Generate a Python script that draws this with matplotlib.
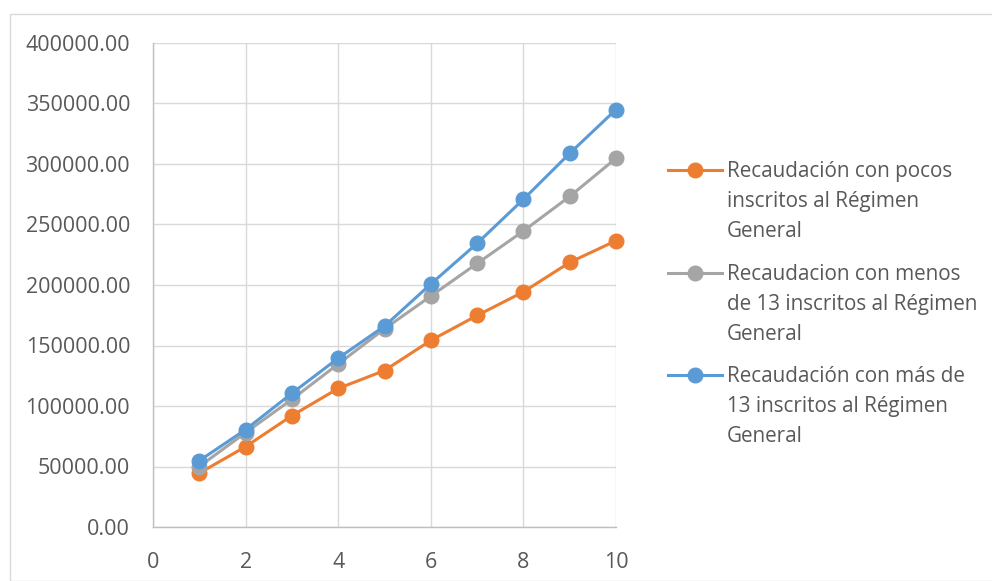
import matplotlib
matplotlib.use("Agg")
import matplotlib.pyplot as plt
from matplotlib.lines import Line2D
from matplotlib.patches import Rectangle
from matplotlib.ticker import FuncFormatter, MultipleLocator

# Data
periodos = [1, 2, 3, 4, 5, 6, 7, 8, 9, 10]
pocos_inscritos = [44500, 66400, 92000, 114500, 129300, 154200, 174800, 194300, 218700, 236600]
menos_13 = [50000, 78000, 105500, 134700, 163800, 190800, 217800, 244600, 273200, 304700]
mas_13 = [54800, 80500, 110500, 139500, 166000, 200800, 234400, 270800, 308800, 345000]

series_labels = [
    ["Recaudación con pocos", "inscritos al Régimen", "General"],
    ["Recaudacion con menos", "de 13 inscritos al Régimen", "General"],
    ["Recaudación con más de", "13 inscritos al Régimen", "General"],
]
series_values = [pocos_inscritos, menos_13, mas_13]
series_colors = ["#ED7D31", "#A5A5A5", "#5B9BD5"]

W, H = 992, 581
DPI = 100
FONT = "Open Sans"
TXT = "#595959"

fig = plt.figure(figsize=(W / DPI, H / DPI), dpi=DPI)
fig.patch.set_facecolor("white")

# chart frame
fig.add_artist(Rectangle((9.5 / W, 0), 2.0, (H - 13.5) / H, transform=fig.transFigure,
                         fill=False, edgecolor="#d9d9d9", linewidth=1.0))

ax = fig.add_axes([153 / W, 1 - 527 / H, (616 - 153) / W, (527 - 43) / H])

for vals, col in zip(series_values, series_colors):
    ax.plot(periodos, vals, color=col, linewidth=2.2, marker="o",
            markersize=10.5, markeredgecolor=col, markerfacecolor=col,
            solid_capstyle="round", clip_on=False, zorder=3)

ax.set_xlim(0, 10)
ax.set_ylim(0, 400000)
ax.xaxis.set_major_locator(MultipleLocator(2))
ax.yaxis.set_major_locator(MultipleLocator(50000))
ax.yaxis.set_major_formatter(FuncFormatter(lambda v, p: f"{v:.2f}"))
ax.grid(True, color="#d9d9d9", linewidth=1.0, zorder=0)
ax.set_axisbelow(True)
for side in ("top", "right"):
    ax.spines[side].set_visible(False)
for side in ("left", "bottom"):
    ax.spines[side].set_color("#bfbfbf")
    ax.spines[side].set_linewidth(1.0)
ax.tick_params(length=0, labelsize=15.5, labelcolor=TXT)
ax.tick_params(axis="y", pad=16.5)
ax.tick_params(axis="x", pad=18)
for lab in ax.get_xticklabels() + ax.get_yticklabels():
    lab.set_fontfamily(FONT)

# legend, drawn on the figure
leg_first_line = [170, 273, 375]
line_gap = 29.5
for labels, col, y0 in zip(series_labels, series_colors, leg_first_line):
    yf = 1 - y0 / H
    fig.add_artist(Line2D([668 / W, 722 / W], [yf, yf], transform=fig.transFigure,
                          color=col, linewidth=2.2))
    fig.add_artist(Line2D([695 / W], [yf], transform=fig.transFigure, color=col,
                          marker="o", markersize=10.5, markeredgecolor=col,
                          markerfacecolor=col))
    for i, t in enumerate(labels):
        fig.text(727 / W, 1 - (y0 + 2 + i * line_gap) / H, t, fontsize=14.9,
                 family=FONT, color=TXT, ha="left", va="center")

fig.savefig("out.png", dpi=DPI)
